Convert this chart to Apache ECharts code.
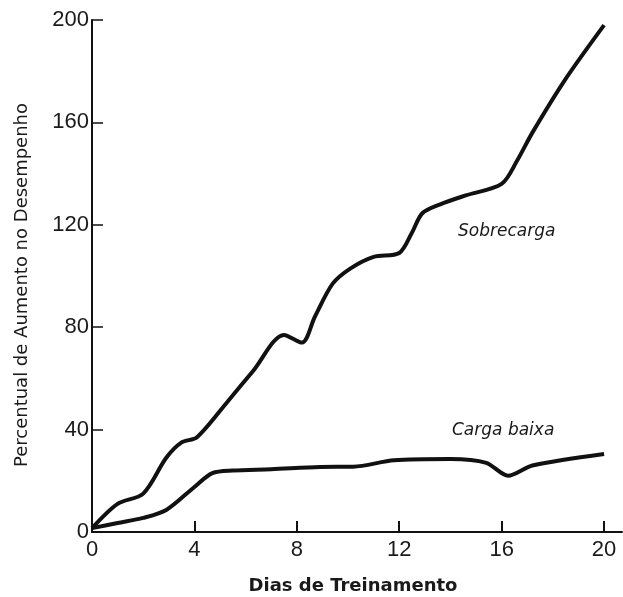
<!DOCTYPE html>
<html>
<head>
<meta charset="utf-8">
<script src="https://cdn.jsdelivr.net/npm/echarts@6/dist/echarts.min.js"></script>
<style>
  html, body { margin: 0; padding: 0; background: #fff; }
  #chart { width: 623px; height: 597px; }
</style>
</head>
<body>
<div id="chart"></div>
<script>
// dias de treinamento x percentual de aumento
var sobrecarga = [
  [0, 1.5], [1, 11], [2, 15], [2.9, 29], [3.5, 35], [4.1, 37],
  [5.3, 51], [6.3, 63], [7.5, 77], [8.2, 74], [8.7, 84], [9.4, 97],
  [10.1, 103], [11, 107.5], [12, 109], [12.5, 117], [12.9, 124.5],
  [13.6, 128], [14.6, 131.5], [16, 136], [16.6, 145], [17.2, 156],
  [18.5, 177], [20, 198]
]
var cargaBaixa = [
  [0, 1.5], [1, 3.5], [2, 5.5], [2.9, 8.6], [4, 17.6], [4.7, 23],
  [5.5, 24], [7, 24.5], [8.9, 25.4], [10.2, 25.5], [11.8, 28],
  [14, 28.5], [15.4, 27], [16.25, 22], [17.2, 26], [20, 30.5]
]
var xTicks = [0, 4, 8, 12, 16, 20]

var myCharts = echarts.init(document.getElementById('chart'))
var txt = '#1a1a1a'
var options = {
  animation: false,
  grid: { left: 92, right: 1, top: 20, bottom: 65 },
  xAxis: {
    type: 'value',
    min: 0,
    max: 20.7,
    axisLine: { lineStyle: { color: '#111', width: 2 } },
    axisTick: { inside: true, length: 11, customValues: xTicks, lineStyle: { color: '#111', width: 2 } },
    axisLabel: { customValues: xTicks, color: txt, fontSize: 22, fontFamily: 'Liberation Sans', margin: 7 },
    splitLine: { show: false }
  },
  yAxis: {
    type: 'value',
    min: 0,
    max: 200,
    interval: 40,
    axisLine: { show: true, lineStyle: { color: '#111', width: 2 } },
    axisTick: { show: true, inside: true, length: 11, lineStyle: { color: '#111', width: 1.5 } },
    axisLabel: { color: txt, fontSize: 22, fontFamily: 'Liberation Sans', margin: 3 },
    splitLine: { show: false }
  },
  series: [
    {
      name: 'Sobrecarga',
      type: 'line',
      data: sobrecarga,
      smooth: 0.3,
      symbol: 'none',
      lineStyle: { color: '#111', width: 4 }
    },
    {
      name: 'Carga baixa',
      type: 'line',
      data: cargaBaixa,
      smooth: 0.3,
      symbol: 'none',
      lineStyle: { color: '#111', width: 4 }
    }
  ],
  graphic: [
    { type: 'text', left: 458, top: 223, style: { text: 'Sobrecarga', fill: txt, font: 'italic 17px "DejaVu Sans"' } },
    { type: 'text', left: 452, top: 422, style: { text: 'Carga baixa', fill: txt, font: 'italic 17px "DejaVu Sans"' } },
    { type: 'text', x: 353, y: 586, style: { text: 'Dias de Treinamento', fill: txt, font: 'bold 18px "DejaVu Sans"', align: 'center', verticalAlign: 'middle' } },
    { type: 'text', x: 22, y: 285, rotation: Math.PI / 2, style: { text: 'Percentual de Aumento no Desempenho', fill: txt, font: '18px "DejaVu Sans"', align: 'center', verticalAlign: 'middle' } }
  ]
}
myCharts.setOption(options)
</script>
</body>
</html>
